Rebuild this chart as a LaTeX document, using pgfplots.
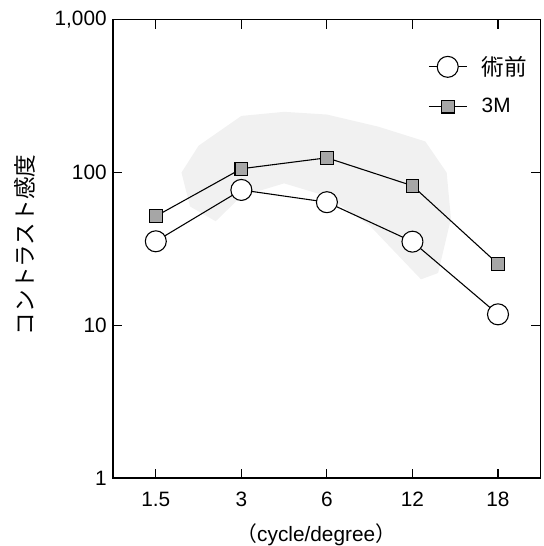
\documentclass[border=0pt]{standalone}
\usepackage{fontspec}
\setmainfont{Liberation Sans}
\newfontfamily\cjk{Noto Sans CJK JP}
\usepackage{pgfplots}
\pgfplotsset{compat=1.18}
\begin{document}
\begin{tikzpicture}
\begin{axis}[
  name=ax,
  scale only axis,
  width=236.5pt, height=253.3pt,
  ymode=log, ymin=1, ymax=1000,
  xmin=-0.5, xmax=4.5,
  xtick={0,1,2,3,4}, xticklabels={1.5,3,6,12,18},
  ytick={1,10,100,1000}, yticklabels={1,10,100,{1,000}},
  yminorticks=false,
  tick style={black, line width=0.6pt},
  major tick length=5.2pt,
  axis line style={line width=0.6pt},
  tick label style={font=\fontsize{11.5}{13}\selectfont},
  xticklabel style={yshift=-4.2pt},
  ylabel={\cjk\fontsize{12.5}{14}\selectfont コントラスト感度},
  ylabel style={at={(axis description cs:-0.205,0.509)}, anchor=center},
  xlabel={{\cjk （}cycle/degree{\cjk ）}},
  xlabel style={at={(axis description cs:0.475,-0.139)}, anchor=base, font=\fontsize{11.5}{13}\selectfont, inner sep=0pt},
  legend style={draw=none, fill=none, at={(axis description cs:0.736,0.93)}, anchor=north west,
    font=\fontsize{11.5}{13}\selectfont, row sep=7.2pt, inner sep=0pt,
    nodes={inner xsep=8pt}},
  legend cell align=left,
  legend image code/.code={\draw[mark repeat=2,mark phase=2] plot coordinates {(0pt,0pt)(10.5pt,0pt)(21pt,0pt)};},
]
\addplot[draw=none, fill=gray!11, forget plot] coordinates {
  (0.3,100) (0.5,150) (1.0,235) (1.5,250) (2.0,240) (2.6,200) (3.15,160) (3.4,100) (3.45,50)
  (3.3,22) (3.1,20) (2.8,30) (2.5,45) (2.0,70) (1.5,85) (1.0,70) (0.7,48) (0.4,60)
} -- cycle;
\addplot[black, line width=0.6pt, mark=*, mark size=5.8pt, mark options={fill=white, draw=black, line width=0.6pt}]
  coordinates {(0,35.5) (1,77) (2,64) (3,35.3) (4,11.8)};
\addlegendentry{{\cjk\fontsize{12.5}{13}\selectfont 術前}}
\addplot[black, line width=0.6pt, mark=square*, mark size=3.5pt, mark options={fill=gray!70, draw=black, line width=0.6pt}]
  coordinates {(0,51.8) (1,106) (2,125) (3,82) (4,25.2)};
\addlegendentry{3M}
\end{axis}
\path ([shift={(-62.5pt,-36pt)}]ax.south west) rectangle ([shift={(1.4pt,11pt)}]ax.north east);
\end{tikzpicture}
\end{document}
